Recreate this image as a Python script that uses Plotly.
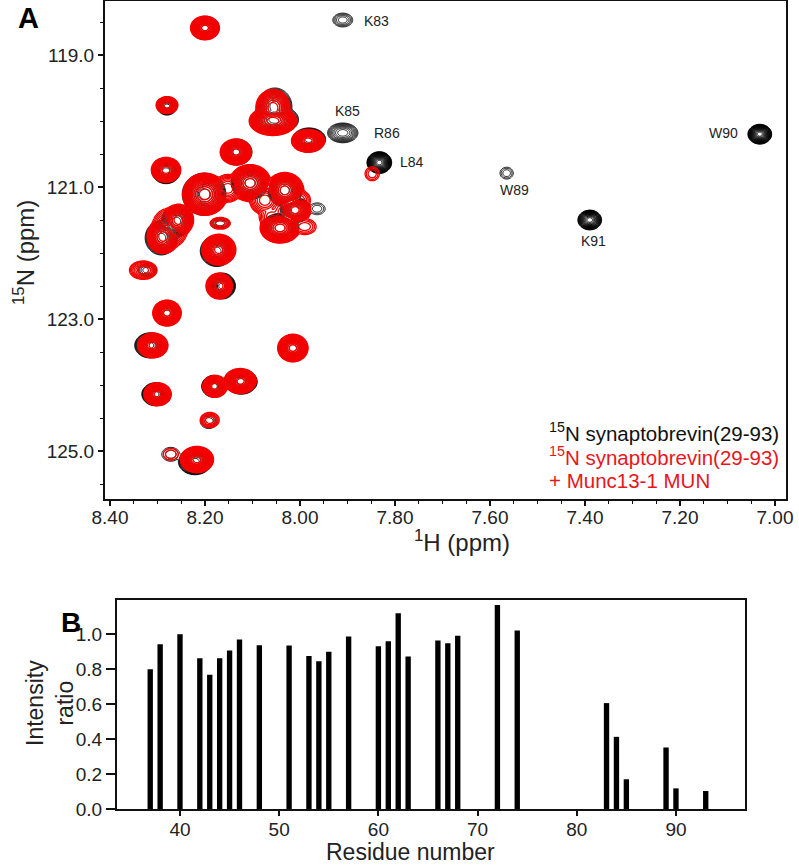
import numpy as np
import plotly.graph_objects as go
from plotly.subplots import make_subplots

# Panel A: peak tables (1H ppm, 15N ppm, half widths, number of contour levels)
red_h  = [8.200,8.280,8.057,8.057,7.983,8.135,8.282,8.200,8.105,8.032,8.011,8.042,8.256,8.288,8.274,8.168,8.171,8.330,8.170,8.280,8.310,8.015,8.300,8.179,8.126,8.190,8.217,8.272,7.848,8.152,8.074,8.060,7.990,8.000,8.035]
red_n  = [118.59,119.76,120.00,119.80,120.30,120.47,120.74,121.11,120.94,121.05,121.35,121.62,121.50,121.75,121.62,121.55,121.95,122.26,122.50,122.91,123.40,123.44,124.14,124.02,123.94,124.53,125.13,125.05,120.80,121.02,121.20,121.45,121.60,121.20,121.38]
red_wh = [.0305,.023,.050,.036,.035,.033,.031,.047,.044,.040,.034,.042,.032,.034,.038,.021,.036,.029,.028,.030,.032,.032,.029,.026,.034,.020,.035,.016,.015,.030,.032,.026,.024,.022,.028]
red_wn = [.18,.13,.22,.28,.175,.197,.19,.32,.28,.27,.20,.23,.24,.26,.30,.09,.235,.14,.197,.197,.19,.21,.175,.167,.19,.115,.20,.09,.105,.21,.22,.17,.12,.15,.22]
red_lv = [18,10,16,12,17,17,13,16,16,16,14,16,13,13,8,4,17,7,13,17,17,17,17,14,17,5,18,2,3,8,8,6,4,5,7]

blk_h  = [8.200,8.280,8.053,8.053,7.981,8.133,8.282,8.202,8.105,8.032,8.009,8.042,8.260,8.292,8.168,8.175,8.322,8.164,8.280,8.316,8.015,8.304,8.181,8.124,8.192,8.221,8.272,7.964,7.910,7.910,7.833,7.565,7.390,7.032]
blk_n  = [118.59,119.78,119.98,119.78,120.28,120.47,120.76,121.11,120.94,121.05,121.35,121.62,121.52,121.77,121.55,121.97,122.26,122.50,122.91,123.40,123.44,124.14,124.02,123.95,124.55,125.16,125.05,121.33,118.47,120.18,120.63,120.79,121.50,120.20]
blk_wh = [.028,.021,.050,.036,.035,.032,.030,.046,.040,.036,.032,.040,.032,.034,.021,.035,.020,.028,.028,.032,.030,.029,.026,.034,.018,.035,.019,.017,.021,.032,.026,.014,.025,.025]
blk_wn = [.16,.13,.22,.28,.175,.197,.19,.32,.25,.25,.19,.22,.24,.26,.08,.235,.10,.197,.18,.19,.19,.175,.167,.19,.11,.20,.105,.09,.105,.15,.165,.09,.15,.15]
blk_lv = [14,12,16,12,16,16,14,14,14,14,12,14,14,14,5,16,5,16,14,16,14,16,14,16,4,16,3,3,5,9,22,3,18,22]

peak_labels = ["K83","K85","R86","L84","W89","K91","W90"]
label_h = [7.838,7.899,7.817,7.764,7.549,7.383,7.109]
label_n = [118.485,119.85,120.18,120.62,121.05,121.82,120.18]

# Panel B: intensity ratios
residues = [37,38,40,42,43,44,45,46,48,51,53,54,55,57,60,61,62,63,66,67,68,72,74,83,84,85,89,90,93]
ratios = [.80,.943,1.0,.863,.768,.863,.907,.97,.937,.935,.876,.846,.90,.987,.931,.96,1.12,.872,.964,.949,.992,1.168,1.021,.606,.413,.17,.352,.118,.103]

FONT = "Liberation Sans"
W, H = 799, 867
L1, R1, T1, B1 = 105, 786, 1, 499
L2, R2, T2, B2 = 117, 745, 600, 809

grid_h = np.arange(6.98, 8.42, 0.0021)
grid_n = np.arange(118.15, 125.80, 0.015)
HH, NN = np.meshgrid(grid_h, grid_n)


def spectrum(h, n, wh, wn, lv):
    z = np.full(HH.shape, -50.0)
    for a, b, c, d, e in zip(h, n, wh, wn, lv):
        z = np.logaddexp(z, e * (1 - ((HH - a) / c) ** 2 - ((NN - b) / d) ** 2))
    return np.clip(z, -3, None).astype("float32")


fig = make_subplots(rows=2, cols=1)

for h, n, wh, wn, lv, col, lw in [(blk_h, blk_n, blk_wh, blk_wn, blk_lv, "#000000", 0.9),
                                  (red_h, red_n, red_wh, red_wn, red_lv, "#f40000", 1.3)]:
    fig.add_trace(go.Contour(x=grid_h.astype("float32"), y=grid_n.astype("float32"),
                             z=spectrum(h, n, wh, wn, lv),
                             contours=dict(coloring="none", start=0, end=30, size=1),
                             line=dict(color=col, width=lw, smoothing=0.8),
                             showscale=False, hoverinfo="skip"), row=1, col=1)

fig.add_trace(go.Bar(x=residues, y=ratios, width=0.54, marker=dict(color="black", line_width=0)), row=2, col=1)

axis_common = dict(showgrid=False, zeroline=False, showline=True, linecolor="#111", mirror=True, automargin=False,
                   ticks="outside", tickcolor="#111", tickfont=dict(family=FONT, size=19, color="#222"))

fig.update_layout(
    width=W, height=H, autosize=False, showlegend=False,
    margin=dict(l=0, r=0, t=0, b=0), paper_bgcolor="white", plot_bgcolor="white",
    font=dict(family=FONT, color="#222"),
    xaxis=dict(axis_common, domain=[L1 / W, R1 / W], range=[8.40 + 5 / 475, 8.40 - (R1 - 110) / 475],
               anchor="y", linewidth=2, ticklen=5, tickwidth=1.5, tick0=7, dtick=0.2, tickformat=".2f",
               ticklabelstandoff=-5,
               minor=dict(ticks="outside", ticklen=3, tickwidth=1, tickcolor="#111", dtick=0.05)),
    yaxis=dict(axis_common, domain=[1 - B1 / H, 1 - T1 / H], range=[125 + (B1 - 451) / 66, 119 - (55 - T1) / 66],
               anchor="x", linewidth=2, ticklen=5, tickwidth=1.5, tick0=119, dtick=2, tickformat=".1f",
               minor=dict(ticks="outside", ticklen=3, tickwidth=1, tickcolor="#111", dtick=0.5)),
    xaxis2=dict(axis_common, domain=[L2 / W, R2 / W], range=[33.65, 96.96], anchor="y2",
                linewidth=2, ticklen=5, tickwidth=1.5, tick0=40, dtick=10, ticklabelstandoff=-3),
    yaxis2=dict(axis_common, domain=[1 - B2 / H, 1 - T2 / H], range=[0, 1.196], anchor="x2",
                linewidth=2, ticklen=9, tickwidth=1.5, tick0=0, dtick=0.2, tickformat=".1f"),
)


def paper_text(text, px, py, size, color="#222", angle=0, xanchor="center"):
    fig.add_annotation(x=px / W, y=1 - py / H, xref="paper", yref="paper", xanchor=xanchor, yanchor="middle",
                       text=text, textangle=angle, showarrow=False,
                       font=dict(family=FONT, size=size, color=color))


for t, a, b in zip(peak_labels, label_h, label_n):
    fig.add_annotation(x=a, y=b, xref="x", yref="y", text=t, showarrow=False,
                       font=dict(family=FONT, size=14, color="#222"))

paper_text("<sup>1</sup>H (ppm)", 462, 541, 24)
paper_text("<sup>15</sup>N (ppm)", 24, 253, 24, angle=-90)
paper_text("Residue number", 410, 852, 23)
paper_text("Intensity<br>ratio", 50, 703, 23, angle=-90)

paper_text("<sup>15</sup>N synaptobrevin(29-93)", 547, 432, 20.5, color="#111", xanchor="left")
paper_text("<sup>15</sup>N synaptobrevin(29-93)", 547, 456, 20.5, color="#e8161c", xanchor="left")
paper_text("+ Munc13-1 MUN", 547, 480, 20.5, color="#e8161c", xanchor="left")

paper_text("<b>A</b>", 29, 18, 29, color="black")
paper_text("<b>B</b>", 71, 622, 28, color="black")

fig.write_html("out.html", post_script="document.body.style.margin='0';",
               config=dict(displayModeBar=False))
